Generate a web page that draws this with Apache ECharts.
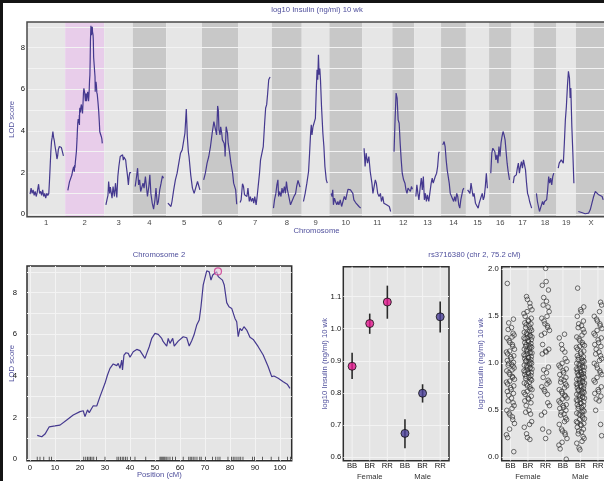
<!DOCTYPE html>
<html><head><meta charset="utf-8">
<script src="https://cdn.jsdelivr.net/npm/echarts@6/dist/echarts.min.js"></script>
<style>
html,body{margin:0;padding:0;background:#fff}
#c{width:604px;height:481px;position:absolute;left:0;top:0}
#f{position:absolute;left:0;top:0;width:604px;height:481px;box-sizing:border-box;border-top:3px solid #141414;border-left:3px solid #141414;pointer-events:none}
</style></head><body><div id="c"></div><div id="f"></div>
<script>
// ---------- data ----------
const chrNames = ['1','2','3','4','5','6','7','8','9','10','11','12','13','14','15','16','17','18','19','X'];
const chrLengths = [102,104.7,74,88,95,97,88,78,71,87,78,54,69,63,58,56,55,57,47,75];
const chrGap = 10;
const genomeMax = 1700;
const highlightChr = 1;

const lodChr1 = [[4,0.96],[7,1.25],[10,1.0],[13,1.17],[16,0.9],[19,1.1],[22,0.85],[25,1.05],[29,1.44],[32,1.0],[35,1.1],[38,0.9],[41,1.17],[44,0.85],[47,1.0],[50,0.77],[53,1.0],[56,0.9],[59,1.0],[61,1.6],[63,2.3],[65,3.0],[67,3.5],[69,3.7],[71,3.97],[73,3.7],[75,3.55],[77,3.3],[79,3.1],[81,2.9],[83,2.65],[85,2.8],[87,3.1],[90,3.25],[93,3.3],[96,3.2],[99,3.25],[102,2.8]];
const lodChr2 = [[2.9,1.14],[4.7,1.07],[6,1.2],[7.7,1.55],[10,1.59],[12,1.63],[14.7,1.88],[17.3,2.12],[20,2.28],[21.3,2.32],[22,2.04],[23,2.36],[23.7,2.23],[24.7,2.44],[25.3,2.56],[26.7,2.55],[28,3.0],[30,3.64],[31,4.04],[32,4.36],[33.3,4.57],[34.7,4.49],[35.3,4.6],[36,4.36],[36.7,4.76],[37,4.28],[37.6,5.0],[38.4,5.11],[39.3,5.08],[40,4.89],[41.3,5.16],[42.7,5.27],[44,5.21],[46,4.84],[46.7,5.08],[47.7,5.4],[48.7,5.8],[50,6.04],[51.3,5.99],[52.7,5.8],[53.3,5.64],[54,5.72],[54.7,5.43],[55.3,5.8],[56,5.56],[57.1,5.8],[57.7,5.43],[59.3,5.67],[61.3,5.88],[62.7,5.83],[63.7,5.43],[64.7,5.69],[65.6,5.96],[66.7,6.44],[67.7,6.68],[68.4,7.32],[69.3,8.37],[70.7,9.05],[71.7,9.0],[72.4,8.6],[73.1,8.85],[73.7,8.8],[74.7,9.0],[75.3,8.77],[76,8.85],[77,8.6],[77.7,8.37],[78.7,7.52],[79.6,7.32],[80.7,7.24],[82,6.76],[82.7,6.6],[83.3,5.88],[84,6.28],[84.7,6.17],[85.6,6.36],[86.7,6.2],[88,5.85],[89.3,5.75],[90,5.8],[91.3,5.4],[93.3,5.0],[95.3,4.44],[96.7,3.96],[97.6,3.99],[99.3,3.88],[101.3,3.72],[102.9,3.6],[104,3.4]];
const lodChr3 = [[0,0.45],[3,0.69],[6,0.9],[8,1.57],[11,1.0],[13,1.3],[15,1.25],[18,0.77],[21,1.33],[25,0.85],[28,1.49],[32,0.8],[35,1.81],[38,2.29],[42,2.77],[44,2.7],[46,2.72],[49,2.85],[51,2.6],[53,2.75],[56,2.77],[58,2.6],[60,2.29],[63,1.9],[66,1.41],[68,1.8],[70,2.0],[74,2.0]];
const lodChr4 = [[2,1.33],[6,1.81],[9,2.21],[12,1.41],[15,1.65],[18,1.09],[22,1.0],[25,1.49],[28,1.25],[32,1.81],[35,1.33],[38,0.85],[42,1.33],[45,1.89],[48,1.0],[52,0.53],[56,0.24],[60,0.69],[63,1.25],[67,0.45],[70,0.61],[74,1.17],[78,1.49],[82,1.84],[85,1.73]];
const lodChr5 = [[0,0.53],[5,0.45],[9,0.37],[12,0.61],[17,1.17],[22,1.65],[27,1.97],[32,2.45],[37,2.93],[42,3.09],[47,3.0],[50,3.89],[54,5.05],[57,3.73],[60,3.0],[62,2.77],[67,1.89],[72,1.25],[77,1.0],[82,1.09],[87,1.57],[92,1.65],[94,1.17]];
const lodChr6 = [[0,1.65],[5,1.97],[10,2.45],[15,2.77],[20,3.25],[25,3.89],[30,4.45],[35,4.37],[38,3.81],[41,5.2],[43,5.0],[45,4.05],[48,3.81],[50,4.2],[53,3.89],[55,3.57],[58,3.57],[60,3.41],[62,3.17],[63,2.77],[66,4.2],[70,3.89],[72,3.41],[75,3.09],[80,2.45],[85,1.97],[88,1.49],[91,1.57],[94,1.17],[97,0.48]];
const lodChr7 = [[0,0.56],[3,0.69],[7,1.46],[10,1.33],[13,0.93],[17,1.0],[20,0.85],[23,1.25],[27,0.61],[30,0.85],[33,0.61],[37,0.77],[40,0.53],[43,0.85],[47,0.45],[50,0.85],[53,1.33],[57,1.97],[60,2.61],[65,2.69],[68,3.25],[72,4.37],[75,5.1],[78,5.26],[81,5.82],[84,6.46],[88,6.59]];
const lodChr8 = [[0,0.29],[3,0.69],[7,1.0],[10,1.41],[13,1.65],[15,0.85],[18,1.09],[22,0.85],[25,1.25],[28,1.0],[32,1.33],[35,1.0],[38,1.57],[41,1.17],[45,0.85],[50,0.45],[55,0.37],[60,0.85],[65,1.0],[68,1.33],[72,1.62],[75,1.7],[78,1.3]];
const lodChr9 = [[0,0.61],[5,1.0],[10,1.49],[15,2.05],[18,2.93],[21,3.89],[23,4.29],[25,3.81],[28,4.2],[32,4.13],[35,4.6],[38,6.14],[40,6.94],[42,6.46],[44,7.66],[46,6.7],[48,7.0],[50,6.46],[53,5.18],[57,3.89],[60,3.25],[63,2.29],[67,1.65],[70,1.49]];
const lodChr10 = [[0,1.0],[3,0.85],[5,1.17],[7,0.45],[10,0.77],[13,0.61],[17,0.45],[20,0.61],[23,0.45],[27,0.69],[31,0.37],[35,0.61],[39,0.85],[43,0.69],[47,1.0],[50,1.2],[54,1.25],[57,1.17],[60,1.09],[64,1.0],[67,0.69],[72,0.56],[77,0.61],[82,0.37],[87,0.29]];
const lodChr11 = [[0,3.17],[3,2.29],[6,2.93],[10,2.45],[14,2.77],[18,2.05],[23,1.49],[26,1.0],[30,1.09],[33,1.65],[36,1.49],[40,1.0],[44,0.85],[48,1.0],[51,0.61],[55,0.85],[58,0.53],[62,0.61],[66,0.45],[70,0.53],[74,0.37],[78,0.13]];
const lodChr12 = [[0,3.0],[3,4.53],[6,5.82],[9,5.58],[12,4.53],[15,4.37],[18,3.41],[21,2.61],[24,1.97],[28,1.65],[32,1.49],[35,1.17],[38,1.0],[41,1.25],[44,1.17],[48,1.09],[51,1.33],[54,1.2]];
const lodChr13 = [[0,0.85],[3,1.41],[6,1.0],[9,0.69],[13,1.33],[16,1.73],[19,1.17],[22,1.81],[25,0.69],[28,1.0],[31,0.61],[34,0.93],[38,0.61],[41,1.0],[45,1.49],[48,1.73],[51,1.49],[54,1.41],[57,1.81],[61,1.97],[64,2.29],[67,2.93],[69,3.0]];
const lodChr14 = [[0,3.33],[4,3.49],[7,3.25],[10,2.61],[13,2.13],[16,2.05],[19,1.49],[22,1.0],[25,0.93],[28,0.77],[32,0.61],[35,0.85],[38,0.61],[41,1.0],[44,0.85],[47,0.45],[50,0.29],[53,0.69],[56,0.93],[59,1.17],[62,1.25]];
const lodChr15 = [[0,1.17],[3,1.25],[7,1.0],[10,1.49],[13,1.17],[16,0.85],[19,1.0],[23,0.53],[27,0.45],[31,0.29],[34,0.53],[37,0.61],[40,0.85],[43,1.0],[46,0.69],[49,0.85],[52,1.33],[55,1.97],[58,1.25]];
const lodChr16 = [[0,1.97],[3,2.93],[6,3.17],[9,3.09],[12,3.0],[15,2.61],[18,2.85],[21,2.45],[24,3.25],[27,2.77],[30,3.41],[33,3.73],[36,3.97],[39,3.81],[42,3.57],[45,3.0],[48,2.45],[51,2.05],[55,1.65]];
const lodChr17 = [[0,1.49],[3,1.81],[6,1.73],[9,1.89],[12,2.21],[15,2.45],[18,1.97],[21,2.29],[24,2.53],[27,2.21],[30,2.61],[33,2.69],[36,2.13],[39,1.49],[42,1.0],[45,0.85],[48,0.61],[51,0.45],[54,0.29]];
const lodChr18 = [[3,1.0],[6,0.61],[9,0.37],[12,0.13],[15,0.29],[18,0.45],[21,0.61],[24,0.45],[27,0.61],[30,0.53],[33,0.69],[36,1.17],[39,1.81],[42,1.49],[45,1.73],[48,1.41],[51,1.81],[54,1.97]];
const lodChr19 = [[0,2.21],[3,2.45],[6,2.37],[9,2.61],[12,2.69],[15,2.45],[18,3.41],[21,4.53],[24,5.18],[27,6.14],[30,6.86],[33,6.54],[35,5.58],[37,6.06],[40,4.21],[43,2.93],[46,1.49]];
const lodChrX = [[2,0.13],[7,0.05],[12,0.08],[17,0.05],[22,0.02],[27,0.0],[32,0.05],[37,0.21],[42,0.53],[47,0.85],[52,1.09],[57,1.0],[62,0.93],[67,0.93],[72,0.85],[75,0.69]];
const lodByChr = [lodChr1,lodChr2,lodChr3,lodChr4,lodChr5,lodChr6,lodChr7,lodChr8,lodChr9,lodChr10,lodChr11,lodChr12,lodChr13,lodChr14,lodChr15,lodChr16,lodChr17,lodChr18,lodChr19,lodChrX];

const markerPosChr2 = [2.9,4.0,5.5,7.7,8.6,21.5,22.3,23.0,23.6,24.2,24.8,25.5,26.6,30.0,34.8,35.5,36.2,36.9,37.5,38.2,38.9,40.2,42.0,46.3,52.0,52.4,52.8,53.2,53.6,54.0,54.5,55.2,56.0,57.0,58.2,61.3,63.5,64.1,64.7,65.3,66.0,66.8,67.9,68.5,70.2,73.0,74.3,75.2,76.0,79.2,80.6,81.3,82.0,82.8,83.6,84.3,85.2,89.0,89.8,93.0,96.5,99.5,103.0,104.2];
const peakMarker = [75.2, 9.02];

const genoCats = ['BB','BR','RR','BB','BR','RR'];
const sexCats = ['Female','Male'];
const meanVals = [0.883,1.016,1.083,0.674,0.799,1.037];
const seLow =   [0.843,0.984,1.031,0.628,0.770,0.988];
const seHigh =  [0.925,1.047,1.134,0.718,0.827,1.085];

const fBB = [1.85,1.47,1.43,1.38,1.36,1.32,1.3,1.28,1.27,1.24,1.22,1.2,1.18,1.15,1.13,1.12,1.1,1.08,1.07,1.05,1.03,1.01,1.0,0.99,0.98,0.97,0.95,0.93,0.92,0.9,0.88,0.86,0.85,0.83,0.81,0.8,0.78,0.76,0.74,0.72,0.7,0.68,0.66,0.63,0.6,0.58,0.55,0.52,0.5,0.47,0.45,0.43,0.4,0.36,0.3,0.24,0.21,0.06];
const fBR = [1.71,1.68,1.64,1.6,1.57,1.55,1.53,1.5,1.48,1.46,1.45,1.43,1.42,1.41,1.4,1.38,1.37,1.35,1.34,1.33,1.32,1.31,1.3,1.29,1.28,1.27,1.27,1.26,1.25,1.24,1.23,1.22,1.21,1.2,1.19,1.18,1.18,1.17,1.16,1.15,1.14,1.13,1.12,1.11,1.11,1.1,1.09,1.08,1.07,1.06,1.06,1.05,1.04,1.03,1.02,1.02,1.01,1.0,0.99,0.98,0.97,0.96,0.95,0.95,0.94,0.93,0.92,0.91,0.9,0.9,0.89,0.88,0.87,0.86,0.85,0.84,0.83,0.82,0.8,0.79,0.78,0.76,0.75,0.73,0.72,0.7,0.69,0.67,0.65,0.63,0.62,0.6,0.58,0.55,0.5,0.48,0.46,0.38,0.35,0.32,0.25,0.21,0.19];
const fRR = [2.01,1.87,1.83,1.78,1.7,1.66,1.62,1.6,1.55,1.5,1.48,1.45,1.42,1.4,1.38,1.35,1.32,1.3,1.2,1.15,1.13,1.12,1.1,0.96,0.93,0.9,0.85,0.82,0.8,0.78,0.75,0.72,0.7,0.67,0.58,0.55,0.48,0.45,0.3,0.27,0.2];
const mBB = [1.31,1.27,1.2,1.15,1.12,1.05,1.02,1.0,0.98,0.96,0.94,0.92,0.9,0.88,0.85,0.83,0.82,0.8,0.78,0.76,0.74,0.72,0.7,0.68,0.66,0.65,0.63,0.62,0.6,0.58,0.56,0.55,0.53,0.52,0.5,0.48,0.46,0.45,0.42,0.4,0.38,0.35,0.3,0.28,0.26,0.24,0.2,0.16,0.13,0.09,-0.02];
const mBR = [1.8,1.6,1.57,1.55,1.5,1.45,1.42,1.4,1.38,1.36,1.33,1.3,1.28,1.26,1.24,1.22,1.2,1.19,1.18,1.17,1.15,1.13,1.12,1.1,1.08,1.07,1.06,1.05,1.04,1.03,1.02,1.01,1.0,0.99,0.98,0.97,0.96,0.96,0.95,0.94,0.93,0.92,0.91,0.9,0.9,0.89,0.88,0.88,0.87,0.86,0.85,0.84,0.83,0.83,0.82,0.81,0.8,0.79,0.79,0.78,0.77,0.76,0.76,0.75,0.74,0.73,0.72,0.71,0.71,0.7,0.69,0.68,0.67,0.66,0.65,0.64,0.64,0.63,0.62,0.61,0.6,0.59,0.58,0.57,0.56,0.55,0.54,0.53,0.52,0.5,0.49,0.48,0.47,0.46,0.45,0.44,0.42,0.41,0.4,0.38,0.37,0.36,0.35,0.34,0.32,0.3,0.28,0.27,0.25,0.22,0.2,0.17,0.15,0.1,0.08];
const mRR = [1.65,1.62,1.55,1.5,1.47,1.45,1.42,1.4,1.37,1.35,1.32,1.3,1.27,1.25,1.22,1.2,1.18,1.15,1.12,1.1,1.08,1.05,1.03,1.0,0.98,0.95,0.92,0.9,0.88,0.85,0.82,0.8,0.75,0.72,0.7,0.68,0.65,0.62,0.6,0.5,0.35,0.23];
const phenoGroups = [fBB,fBR,fRR,mBB,mBR,mRR];
const jitterList = [-0.18,0.06,0.21,-0.08,0.13,-0.23,0.01,0.17,-0.13,0.09,-0.03,0.23,-0.16,0.04,-0.1,0.15,-0.21,0.11,-0.05,0.19];

// axis ranges
const topY = [-0.12, 9.23];
const blY = [-0.08, 9.28];
const blX = [-1.2, 104.7];
const midY = [0.589, 1.193];
const rightY = [-0.036, 2.028];

// ---------- styles ----------
const FONT = '"Liberation Sans", Arial, Helvetica, sans-serif';
const FS = 7.7;
const SLATE = '#4f4f9c';
const LINE = '#45398f';
const GRIDLINE = '#f3f3f3';
const BG = '#e5e5e5';
const FEMALE = '#e3188e';
const MALE = '#4a3e98';

// ---------- derived ----------
const offsets = []; let acc = 0;
chrLengths.forEach(L => { offsets.push(acc); acc += L + chrGap; });
const bandData = chrNames.map((n,i) => [offsets[i], i === chrNames.length-1 ? genomeMax : offsets[i]+chrLengths[i]+chrGap, i]);
const bandColor = i => i === highlightChr ? '#e8cdea' : (i % 2 === 0 ? '#e6e6e6' : '#c8c8c8');

const isMult = (v, step) => Math.abs(v/step - Math.round(v/step)) < 1e-6;
const tickLbl = { fontSize: FS, color: '#111', fontFamily: FONT };
const nameStyle = { color: SLATE, fontSize: FS, fontFamily: FONT };

function vGridSeries(xIdx, yIdx, yr) {
  return { type:'custom', xAxisIndex:xIdx, yAxisIndex:yIdx, z:1, silent:true,
    data: genoCats.map((c,i)=>[i]),
    renderItem: (p, api) => {
      const a = api.coord([api.value(0), yr[0]]), b = api.coord([api.value(0), yr[1]]);
      return { type:'line', shape:{x1:a[0],y1:a[1],x2:b[0],y2:b[1]}, style:{stroke:GRIDLINE, lineWidth:1} };
    } };
}

const series = [];
series.push({ type:'custom', xAxisIndex:0, yAxisIndex:0, z:1, silent:true, data: bandData,
  encode:{x:[0,1]},
  renderItem: (p, api) => {
    const a = api.coord([api.value(0), topY[1]]), b = api.coord([api.value(1), topY[0]]);
    return { type:'rect', shape:{x:a[0], y:a[1], width:b[0]-a[0], height:b[1]-a[1]}, style:{fill: bandColor(api.value(2))} };
  } });
lodByChr.forEach((arr, i) => {
  series.push({ type:'line', xAxisIndex:0, yAxisIndex:0, z:3, silent:true, symbol:'none', showSymbol:false,
    data: arr.map(p => [offsets[i] + chrGap/2 + p[0], p[1]]),
    lineStyle:{ color: LINE, width: 1.2 } });
});
series.push({ type:'scatter', xAxisIndex:0, yAxisIndex:0, z:3, silent:true, clip:false, symbolSize:1,
  itemStyle:{ color:'rgba(0,0,0,0)' },
  data: chrNames.map((n,i) => ({ name:n, value:[(bandData[i][0]+bandData[i][1])/2, topY[0]] })),
  label:{ show:true, position:'bottom', distance:2, formatter:'{b}', fontSize:FS, color:'#111', fontFamily:FONT } });

series.push({ type:'line', xAxisIndex:1, yAxisIndex:1, z:3, silent:true, symbol:'none', showSymbol:false,
  data: lodChr2, lineStyle:{ color: LINE, width: 1.2 } });
series.push({ type:'scatter', xAxisIndex:1, yAxisIndex:1, z:4, silent:true, clip:false,
  symbol:'rect', symbolSize:[0.9, 4], symbolOffset:[0,-2], itemStyle:{ color:'#222' },
  data: markerPosChr2.map(x => [x, blY[0]]) });
series.push({ type:'scatter', xAxisIndex:1, yAxisIndex:1, z:5, silent:true, clip:false,
  symbolSize:7, itemStyle:{ color:'rgba(240,205,228,0.7)', borderColor:'#c8358c', borderWidth:1.2 },
  data:[peakMarker] });

series.push(vGridSeries(4, 2, midY));
series.push({ type:'custom', xAxisIndex:4, yAxisIndex:2, z:3, silent:true,
  data: meanVals.map((m,i)=>[i, seLow[i], seHigh[i]]),
  renderItem: (p, api) => {
    const a = api.coord([api.value(0), api.value(1)]), b = api.coord([api.value(0), api.value(2)]);
    return { type:'line', shape:{x1:a[0],y1:a[1],x2:b[0],y2:b[1]}, style:{stroke:'#2a2a2a', lineWidth:1.6} };
  } });
series.push({ type:'scatter', xAxisIndex:4, yAxisIndex:2, z:4, silent:true, symbolSize:8,
  data: meanVals.map((m,i)=>({ value:[i,m], itemStyle:{ color: i<3 ? FEMALE : MALE, borderColor:'#111', borderWidth:1 } })) });

series.push(vGridSeries(7, 3, rightY));
phenoGroups.forEach((vals, g) => {
  series.push({ type:'scatter', xAxisIndex:7, yAxisIndex:3, z:3, silent:true, symbolSize:4.6,
    itemStyle:{ color:'rgba(255,255,255,0.15)', borderColor:'#222', borderWidth:0.8 },
    data: vals.map((v,k) => [g + jitterList[(k*7 + g*3) % jitterList.length], v]) });
});

const catAxisBase = { type:'category', position:'bottom', boundaryGap:true, axisLine:{show:false}, axisTick:{show:false}, splitLine:{show:false} };
const gridBase = { show:true, outerBoundsMode:'none', containLabel:false };

const option = {
  animation:false,
  textStyle:{ fontFamily: FONT },
  grid:[
    Object.assign({ left:27, top:22, width:579, height:194.7, backgroundColor:'transparent', borderColor:'#4a4a4a', borderWidth:1.5, z:6 }, gridBase),
    Object.assign({ left:27, top:266, width:264.7, height:194.7, backgroundColor:BG, borderColor:'#2e2e2e', borderWidth:1.5 }, gridBase),
    Object.assign({ left:343.3, top:266.7, width:105.7, height:194, backgroundColor:BG, borderColor:'#2e2e2e', borderWidth:1.5 }, gridBase),
    Object.assign({ left:501.7, top:266.7, width:105, height:194, backgroundColor:BG, borderColor:'#2e2e2e', borderWidth:1.5 }, gridBase)
  ],
  xAxis:[
    { gridIndex:0, type:'value', position:'bottom', min:0, max:genomeMax, axisLine:{show:false}, axisTick:{show:false}, axisLabel:{show:false}, splitLine:{show:false},
      name:'Chromosome', nameLocation:'middle', nameGap:10, nameMoveOverlap:false, nameTextStyle:nameStyle },
    { gridIndex:1, type:'value', position:'bottom', min:blX[0], max:blX[1], splitNumber:10, minInterval:10, maxInterval:10, axisLine:{show:false}, axisTick:{show:false},
      axisLabel:Object.assign({ margin:3, formatter: v => isMult(v,10) ? String(Math.round(v)) : '' }, tickLbl),
      splitLine:{ show:true, showMinLine:false, showMaxLine:false, lineStyle:{ color:GRIDLINE, width:1 } },
      name:'Position (cM)', nameLocation:'middle', nameGap:10, nameMoveOverlap:false, nameTextStyle:nameStyle },
    Object.assign({ gridIndex:2, data:genoCats, axisLabel:Object.assign({ margin:1 }, tickLbl) }, catAxisBase),
    Object.assign({ gridIndex:2, data:sexCats, offset:11, axisLabel:Object.assign({ margin:1 }, tickLbl, { color:'#333' }) }, catAxisBase),
    { gridIndex:2, type:'value', position:'bottom', min:-0.5, max:5.5, show:false },
    Object.assign({ gridIndex:3, data:genoCats, axisLabel:Object.assign({ margin:1 }, tickLbl) }, catAxisBase),
    Object.assign({ gridIndex:3, data:sexCats, offset:11, axisLabel:Object.assign({ margin:1 }, tickLbl, { color:'#333' }) }, catAxisBase),
    { gridIndex:3, type:'value', position:'bottom', min:-0.5, max:5.5, show:false }
  ],
  yAxis:[
    { gridIndex:0, type:'value', min:topY[0], max:topY[1], splitNumber:9, minInterval:1, maxInterval:1, z:2,
      axisLine:{show:false}, axisTick:{show:false},
      axisLabel:Object.assign({ margin:2, formatter: v => (isMult(v,1) && Math.round(v)%2===0) ? String(Math.round(v)) : '' }, tickLbl),
      splitLine:{ show:true, showMinLine:false, showMaxLine:false, lineStyle:{ color:GRIDLINE, width:1 } },
      name:'LOD score', nameLocation:'middle', nameGap:11, nameMoveOverlap:false, nameTextStyle:nameStyle },
    { gridIndex:1, type:'value', min:blY[0], max:blY[1], splitNumber:9, minInterval:1, maxInterval:1,
      axisLine:{show:false}, axisTick:{show:false},
      axisLabel:Object.assign({ margin:10, formatter: v => (isMult(v,1) && Math.round(v)%2===0) ? String(Math.round(v)) : '' }, tickLbl),
      splitLine:{ show:true, showMinLine:false, showMaxLine:false, lineStyle:{ color:GRIDLINE, width:1 } },
      name:'LOD score', nameLocation:'middle', nameGap:11, nameMoveOverlap:false, nameTextStyle:nameStyle },
    { gridIndex:2, type:'value', min:midY[0], max:midY[1], splitNumber:6, minInterval:0.1, maxInterval:0.1,
      axisLine:{show:false}, axisTick:{show:false},
      axisLabel:Object.assign({ margin:2, formatter: v => isMult(v,0.1) ? v.toFixed(1) : '' }, tickLbl),
      splitLine:{ show:true, showMinLine:false, showMaxLine:false, lineStyle:{ color:GRIDLINE, width:1 } },
      name:'log10 Insulin (ng/ml) 10 wk', nameLocation:'middle', nameGap:14, nameMoveOverlap:false, nameTextStyle:nameStyle },
    { gridIndex:3, type:'value', min:rightY[0], max:rightY[1], splitNumber:4, minInterval:0.5, maxInterval:0.5,
      axisLine:{show:false}, axisTick:{show:false},
      axisLabel:Object.assign({ margin:3, formatter: v => isMult(v,0.5) ? v.toFixed(1) : '' }, tickLbl),
      splitLine:{ show:true, showMinLine:false, showMaxLine:false, lineStyle:{ color:GRIDLINE, width:1 } },
      name:'log10 Insulin (ng/ml) 10 wk', nameLocation:'middle', nameGap:17, nameMoveOverlap:false, nameTextStyle:nameStyle }
  ],
  graphic:[
    { type:'text', silent:true, x:317, y:10, style:{ text:'log10 Insulin (ng/ml) 10 wk', align:'center', verticalAlign:'middle', fill:SLATE, font:'7.7px '+FONT } },
    { type:'text', silent:true, x:159, y:255, style:{ text:'Chromosome 2', align:'center', verticalAlign:'middle', fill:SLATE, font:'7.7px '+FONT } },
    { type:'text', silent:true, x:474.5, y:255, style:{ text:'rs3716380 (chr 2, 75.2 cM)', align:'center', verticalAlign:'middle', fill:SLATE, font:'7.7px '+FONT } }
  ],
  series: series
};

const chart = echarts.init(document.getElementById('c'), null, { renderer:'canvas' });
chart.setOption(option);
</script></body></html>
